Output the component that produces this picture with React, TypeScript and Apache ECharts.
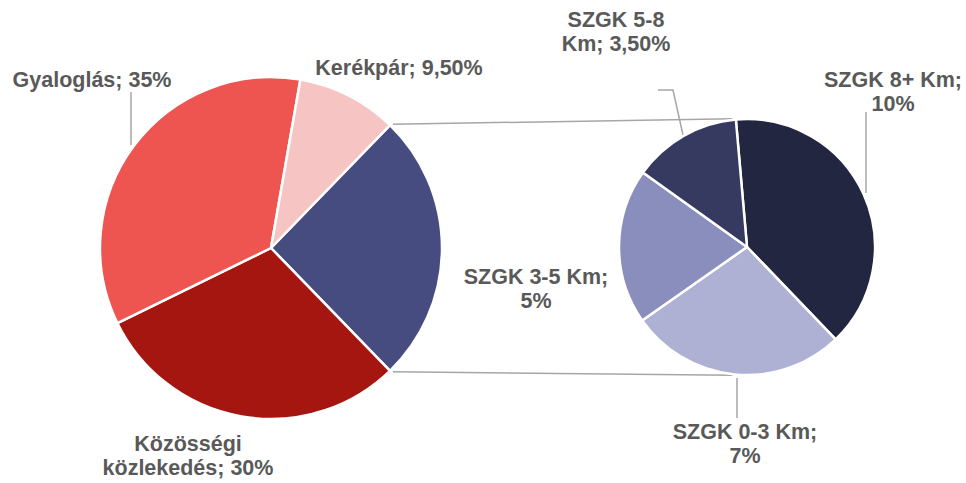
import { useEffect, useRef } from 'react';
import * as echarts from 'echarts';

// Main pie (without the split "other" slice)
const mainNames = ['Közösségi közlekedés', 'Gyaloglás', 'Kerékpár'];
const mainValues = [30, 35, 9.5];
const mainLabels = ['Közösségi\nközlekedés; 30%', 'Gyaloglás; 35%', 'Kerékpár; 9,50%'];
const mainColors = ['#a51611', '#ee5450', '#f7c4c4'];

// Secondary pie (breakdown of the SZGK slice)
const otherName = 'SZGK';
const otherColor = '#474c80';
const subNames = ['SZGK 8+ Km', 'SZGK 0-3 Km', 'SZGK 3-5 Km', 'SZGK 5-8 Km'];
const subValues = [10, 7, 5, 3.5];
const subLabels = ['SZGK 8+ Km;\n10%', 'SZGK 0-3 Km;\n7%', 'SZGK 3-5 Km;\n5%', 'SZGK 5-8\nKm; 3,50%'];
const subColors = ['#232640', '#aeb1d3', '#8a8ebd', '#363a60'];

const W = 966;
const H = 483;
const L_CX = 271, L_CY = 248, L_R = 171;
const R_CX = 747, R_CY = 247, R_R = 128;
const GRAY = '#a6a6a6';
const TEXT = '#595959';

type Pos = { x: number; y: number; line: number[][] | null };
const mainPos: Pos[] = [
  { x: 188, y: 456, line: null },
  { x: 92, y: 80, line: [[131, 145], [131, 92]] },
  { x: 399, y: 68, line: null },
];
const subPos: Pos[] = [
  { x: 893, y: 92, line: [[866, 193], [866, 112]] },
  { x: 745, y: 444, line: [[737, 378], [737, 418]] },
  { x: 536, y: 289, line: null },
  { x: 616, y: 32, line: [[683, 135], [673, 90], [658, 90]] },
];

export default function App() {
  const ref = useRef<HTMLDivElement>(null);
  useEffect(() => {
    document.body.style.margin = '0';
    if (!ref.current) return;
    const chart = echarts.init(ref.current, null, { renderer: 'svg' });
    const otherValue = subValues.reduce((a, b) => a + b, 0);
    const total = otherValue + mainValues.reduce((a, b) => a + b, 0);
    const half = (otherValue / total) * 180;
    const startL = half;
    const rad = (d: number) => (d * Math.PI) / 180;
    const topL = [L_CX + L_R * Math.cos(rad(half)) + 3, L_CY - L_R * Math.sin(rad(half)) - 1];
    const botL = [L_CX + L_R * Math.cos(rad(half)) + 3, L_CY + L_R * Math.sin(rad(half)) + 1];
    const topR = [R_CX + R_R * Math.cos(rad(96.5)), R_CY - R_R * Math.sin(rad(96.5)) - 1];
    const botR = [R_CX + R_R * Math.cos(rad(96.5)), R_CY + R_R * Math.sin(rad(96.5)) + 1];

    const labelBase = {
      show: true,
      color: TEXT,
      fontFamily: '"Liberation Sans", Arial, sans-serif',
      fontWeight: 'bold' as const,
      fontSize: 21.5,
      lineHeight: 24.5,
      align: 'center' as const,
    };

    const mainData = [
      {
        name: otherName,
        value: otherValue,
        itemStyle: { color: otherColor },
        label: { show: false },
        labelLine: { show: false },
      },
      ...mainNames.map((n, i) => ({
        name: n,
        value: mainValues[i],
        itemStyle: { color: mainColors[i] },
        label: { ...labelBase, formatter: mainLabels[i] },
        labelLine: { show: !!mainPos[i].line },
      })),
    ];
    const subData = subNames.map((n, i) => ({
      name: n,
      value: subValues[i],
      itemStyle: { color: subColors[i] },
      label: { ...labelBase, formatter: subLabels[i] },
      labelLine: { show: !!subPos[i].line },
    }));

    const layoutFor = (pos: Pos[], offset: number) => (params: any) => {
      const p = pos[params.dataIndex - offset];
      if (!p) return {};
      const r: any = { x: p.x, y: p.y, align: 'center', verticalAlign: 'middle' };
      if (p.line) r.labelLinePoints = p.line;
      return r;
    };

    chart.setOption({
      animation: false,
      backgroundColor: '#ffffff',
      series: [
        {
          type: 'pie',
          center: [L_CX, L_CY],
          radius: L_R,
          startAngle: startL,
          clockwise: true,
          avoidLabelOverlap: false,
          silent: true,
          itemStyle: { borderColor: '#ffffff', borderWidth: 2.5 },
          label: { position: 'outside' },
          labelLine: { lineStyle: { color: GRAY, width: 1.5 }, length: 10, length2: 10 },
          labelLayout: layoutFor(mainPos, 1),
          data: mainData,
        },
        {
          type: 'pie',
          center: [R_CX, R_CY],
          radius: R_R,
          startAngle: 95,
          clockwise: true,
          avoidLabelOverlap: false,
          silent: true,
          itemStyle: { borderColor: '#ffffff', borderWidth: 2.5 },
          label: { position: 'outside' },
          labelLine: { lineStyle: { color: GRAY, width: 1.5 }, length: 10, length2: 10 },
          labelLayout: layoutFor(subPos, 0),
          data: subData,
        },
      ],
      graphic: [
        {
          type: 'line',
          silent: true,
          shape: { x1: topL[0], y1: topL[1], x2: topR[0], y2: topR[1] },
          style: { stroke: GRAY, lineWidth: 1.5 },
        },
        {
          type: 'line',
          silent: true,
          shape: { x1: botL[0], y1: botL[1], x2: botR[0], y2: botR[1] },
          style: { stroke: GRAY, lineWidth: 1.5 },
        },
      ],
    });
    return () => chart.dispose();
  }, []);
  return <div ref={ref} style={{ width: W, height: H }} />;
}
